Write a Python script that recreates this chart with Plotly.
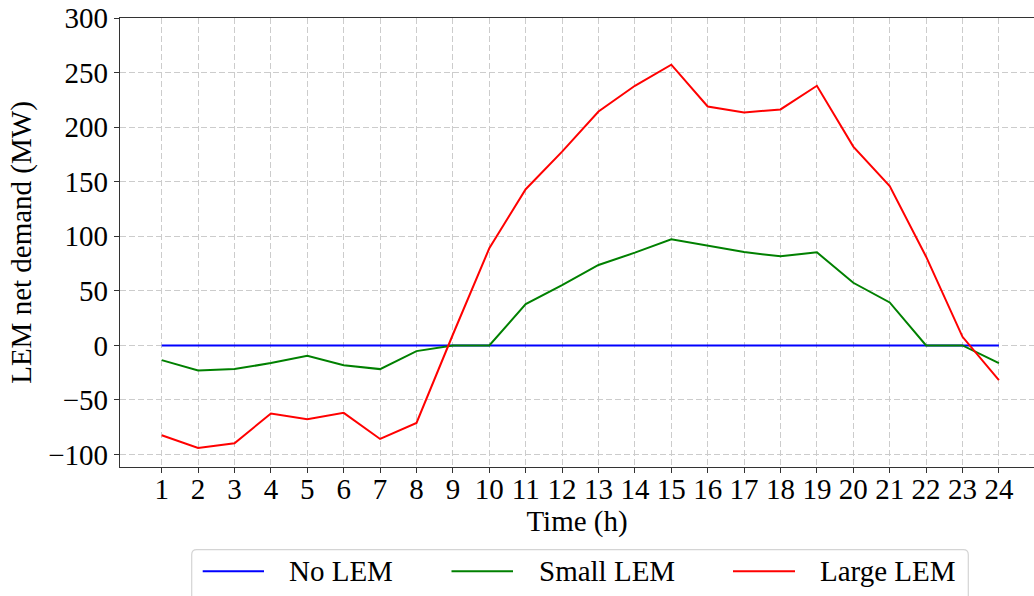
import plotly.graph_objects as go

# Hourly net demand of the local energy market (MW)
hours = list(range(1, 25))
no_lem = [0] * 24
small_lem = [-13.5, -23, -21.7, -16.2, -9.5, -18.1, -21.7, -5.2, 0, 0,
             37.9, 55.3, 73.7, 85, 97.2, 91.1, 85.6, 81.6, 85.3, 57.4,
             39.4, 0, 0, -16.2]
large_lem = [-82.3, -93.9, -89.6, -62.4, -67.6, -61.8, -85.7, -71, 10, 89,
             143.1, 177.6, 214.3, 237.9, 257.2, 218.9, 213.4, 216.2, 237.9, 182.2,
             146.1, 81.3, 7.9, -31.8]
y_ticks = [-100, -50, 0, 50, 100, 150, 200, 250, 300]

series = [
    ("No LEM", no_lem, "#0000ff"),
    ("Small LEM", small_lem, "#008000"),
    ("Large LEM", large_lem, "#ff0000"),
]

FONT = "Liberation Serif, Times New Roman, serif"
FS = 29

fig = go.Figure()
for name, vals, color in series:
    fig.add_trace(go.Scatter(
        x=hours, y=vals, mode="lines", name=name,
        line=dict(color=color, width=2), showlegend=False,
    ))

# Legend drawn as a framed row of line samples and labels under the axes
W, H = 914.0, 448.7
def px_x(p):
    return (p - 120) / W
def px_y(p):
    return (466.7 - p) / H

x0, x1, y0, y1 = px_x(191.7), px_x(968.3), px_y(549.3), px_y(640)
r = 5
rx, ry = r / W, r / H
path = (f"M {x0 + rx},{y0} L {x1 - rx},{y0} Q {x1},{y0} {x1},{y0 - ry} "
        f"L {x1},{y1} L {x0},{y1} L {x0},{y0 - ry} Q {x0},{y0} {x0 + rx},{y0} Z")
fig.add_shape(type="path", path=path, xref="paper", yref="paper",
              line=dict(color="#d4d4d4", width=1.2), fillcolor="white", layer="above")

legend_items = [
    (202.7, 264.0, 286.7),
    (451.5, 513.0, 537.0),
    (733.0, 795.0, 818.0),
]
ly = px_y(571.0)
for (a, b, t), (name, _, color) in zip(legend_items, series):
    fig.add_shape(type="line", xref="paper", yref="paper",
                  x0=px_x(a), x1=px_x(b), y0=ly, y1=ly,
                  line=dict(color=color, width=2), layer="above")
    fig.add_annotation(x=px_x(t), y=ly, xref="paper", yref="paper",
                       text=name, showarrow=False, xanchor="left", yanchor="middle",
                       font=dict(family=FONT, size=FS, color="black"))

grid = dict(showgrid=True, gridcolor="#cccccc", gridwidth=1, griddash="6px,3px")

fig.update_layout(
    width=1034, height=596,
    margin=dict(l=120, r=0, t=18, b=129.3),
    plot_bgcolor="white", paper_bgcolor="white",
    font=dict(family=FONT, size=FS, color="black"),
    xaxis=dict(
        range=[1 - 41.7 / 36.4, 1 + 872.3 / 36.4],
        tickmode="array", tickvals=hours, ticktext=[str(h) for h in hours],
        ticks="outside", ticklen=5, tickwidth=1, tickcolor="#333333",
        ticklabelstandoff=-9,
        showline=True, linecolor="#333333", linewidth=1.3, mirror=True,
        zeroline=False,
        title=dict(text="Time (h)", standoff=6, font=dict(size=FS)),
        **grid,
    ),
    yaxis=dict(
        range=[-111.4, 300],
        tickmode="array", tickvals=y_ticks,
        ticks="outside", ticklen=5, tickwidth=1, tickcolor="#333333",
        showline=True, linecolor="#333333", linewidth=1.3, mirror=False,
        zeroline=False,
        title=dict(text="LEM net demand (MW)", standoff=8, font=dict(size=FS)),
        **grid,
    ),
)

fig.write_html("out.html")
